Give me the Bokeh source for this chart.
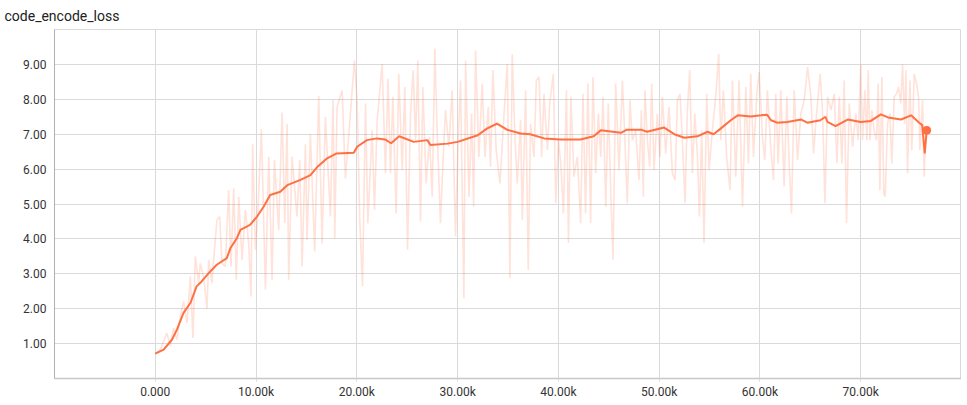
import numpy as np
from bokeh.plotting import figure
from bokeh.models import FixedTicker, Range1d
from bokeh.embed import file_html
from bokeh.resources import INLINE

title_text = "code_encode_loss"

# smoothed series (step in thousands, value)
smooth_k = [0.0, 0.83, 1.65, 2.15, 2.8, 3.5, 4.1, 4.6, 5.3, 6.1, 7.1, 7.45, 8.1, 8.45, 9.4,
            10.1, 10.75, 11.4, 12.4, 13.1, 14.4, 15.4, 16.1, 17.0, 18.0, 19.7, 20.03, 21.0,
            22.0, 22.8, 23.4, 24.2, 25.65, 27.0, 27.3, 29.0, 30.0, 32.0, 32.9, 33.9, 34.9,
            36.25, 37.2, 38.6, 40.2, 42.2, 43.5, 44.2, 46.2, 46.8, 48.2, 48.8, 50.5, 51.5,
            52.5, 53.8, 54.8, 55.4, 56.1, 57.1, 57.8, 59.1, 60.1, 60.7, 61.1, 61.7, 62.7,
            64.1, 64.7, 66.0, 66.5, 66.7, 67.5, 68.7, 70.0, 71.0, 72.0, 72.7, 74.0, 75.0,
            75.8, 76.1, 76.35, 76.55]
smooth_v = [0.71, 0.83, 1.11, 1.40, 1.88, 2.17, 2.64, 2.78, 3.02, 3.26, 3.45, 3.73, 4.02, 4.26, 4.40,
            4.64, 4.92, 5.26, 5.35, 5.54, 5.69, 5.83, 6.07, 6.30, 6.45, 6.47, 6.64, 6.83,
            6.88, 6.85, 6.74, 6.94, 6.78, 6.83, 6.69, 6.73, 6.78, 6.97, 7.16, 7.30, 7.13,
            7.02, 7.00, 6.88, 6.85, 6.85, 6.94, 7.11, 7.04, 7.13, 7.13, 7.07, 7.19, 7.00,
            6.90, 6.94, 7.07, 7.00, 7.16, 7.40, 7.54, 7.51, 7.54, 7.56, 7.40, 7.33, 7.35,
            7.42, 7.33, 7.40, 7.50, 7.35, 7.23, 7.42, 7.35, 7.38, 7.57, 7.48, 7.42, 7.54,
            7.33, 7.26, 6.45, 7.11]

# raw series (step in thousands, value)
raw_k = [0.0, 0.5, 1.16, 1.49, 1.82, 2.15, 2.48, 2.81, 3.15, 3.48, 3.74, 3.97, 4.3, 4.47, 4.8,
         5.13, 5.3, 5.63, 5.79, 6.12, 6.39, 6.62, 6.95, 7.28, 7.51, 7.78, 8.04, 8.28, 8.61,
         8.94, 9.27, 9.5, 9.66, 9.93, 10.16, 10.53, 10.93, 11.26, 11.59, 11.82, 12.25, 12.58,
         12.85, 13.08, 13.24, 13.57, 14.07, 14.33, 14.57, 14.9, 15.06, 15.39, 15.82, 16.22,
         16.55, 16.88, 17.38, 17.64, 17.81, 18.04, 18.54, 18.87, 19.36, 19.76, 20.03, 20.29,
         20.56, 20.86, 21.09, 21.52, 21.75, 22.02, 22.51, 22.84,
         23.1, 23.34, 23.57, 23.9, 24.16, 24.5, 24.76, 25.03, 25.33, 25.59, 25.83, 26.05,
         26.32, 26.55, 26.88, 27.21, 27.48, 27.74, 27.97, 28.3, 28.54, 28.8, 29.13, 29.46,
         29.79, 30.06, 30.29, 30.62, 30.79, 31.13, 31.39, 31.59, 31.78, 32.11, 32.44, 32.71,
         33.04, 33.27, 33.5, 33.83, 34.2, 34.59, 34.93, 35.19, 35.42, 35.69, 35.92, 36.25,
         36.42, 36.75, 37.01, 37.24, 37.58, 37.81, 38.08, 38.34, 38.57, 38.91, 39.14, 39.5,
         39.74, 40.0, 40.24, 40.5, 40.8, 41.0, 41.24, 41.54, 41.88, 42.21, 42.44, 42.7,
         42.93, 43.2, 43.43, 43.7, 43.97, 44.2, 44.43, 44.7, 44.95, 45.18, 45.42, 45.68,
         46.02, 46.35,
         46.51, 46.84, 47.1, 47.34, 47.67, 48.0, 48.23, 48.43, 48.59, 48.83, 49.06, 49.26,
         49.49, 49.82, 50.08, 50.32, 50.65, 50.98, 51.31, 51.58, 51.81, 52.07, 52.3, 52.57,
         52.8, 53.03, 53.29, 53.53, 53.79, 53.99, 54.22, 54.45, 54.72, 54.95, 55.28, 55.61,
         55.91, 56.11, 56.37, 56.7, 57.03, 57.27, 57.6, 57.93, 58.27, 58.6, 58.86, 59.09,
         59.36, 59.69, 59.92, 60.25, 60.48, 60.74, 61.07, 61.34, 61.57, 61.81, 62.07, 62.4,
         62.67, 62.9, 63.13, 63.4, 63.73, 64.06, 64.39, 64.73, 65.06, 65.32, 65.65, 65.98,
         66.22, 66.45, 66.71, 67.04, 67.38, 67.64, 67.87, 68.13, 68.36, 68.59, 68.86, 69.19,
         69.52, 69.75,
         70.01, 70.18, 70.41, 70.61, 70.74, 70.91, 71.1, 71.33, 71.57, 71.73, 71.9, 72.1,
         72.29, 72.43, 72.66, 72.89, 73.09, 73.32, 73.55, 73.75, 73.98, 74.15, 74.35, 74.48,
         74.65, 74.88, 75.07, 75.31, 75.54, 75.74, 75.87, 76.13, 76.3, 76.47]
raw_v = [0.71, 0.83, 1.30, 0.92, 1.45, 1.11, 1.78, 2.21, 1.59, 2.92, 1.16, 3.50, 2.73, 3.30, 2.92,
         2.00, 3.40, 2.73, 3.40, 4.54, 4.64, 3.30, 3.21, 5.40, 3.21, 5.45, 2.83, 5.21, 3.40,
         4.83, 3.88, 2.35, 6.71, 3.69, 4.64, 7.14, 2.54, 6.35, 2.83, 6.26, 4.26, 7.62,
         4.45, 7.30, 2.83, 6.35, 4.64, 6.26, 3.21, 6.71, 3.97, 7.00, 3.64, 8.10,
         3.86, 7.50, 4.64, 7.97, 4.02, 7.78, 8.25, 5.73, 7.59, 9.11, 7.97, 4.54,
         2.64, 7.88, 4.45, 7.11, 4.83, 7.40, 9.02, 5.88,
         8.59, 5.88, 8.07, 4.73, 8.73, 5.97, 8.35, 3.69, 7.59, 8.83, 6.83, 9.11,
         4.50, 8.35, 5.59, 6.92, 5.21, 9.45, 7.11, 4.45, 6.16, 7.69, 6.64, 8.26,
         4.07, 6.83, 8.54, 2.30, 9.11, 5.21, 7.59, 4.92, 9.40, 6.35, 8.45, 6.35,
         7.78, 6.07, 8.83, 6.54, 5.59, 7.50, 9.02, 2.88, 9.30, 6.92, 5.59, 7.40,
         4.54, 8.26, 3.11, 7.30, 6.35, 8.54, 8.64, 6.35, 8.16, 6.54, 7.88, 8.73,
         5.02, 6.83, 6.16, 4.73, 8.26, 3.88, 8.07, 5.78, 6.35, 4.45, 8.16, 4.73,
         8.45, 4.45, 8.64, 5.88, 7.59, 6.35, 8.07, 4.92, 7.88, 5.50, 3.40, 8.45,
         5.97, 8.54,
         7.50, 5.02, 7.97, 6.83, 7.11, 5.69, 7.69, 5.21, 8.26, 6.83, 6.07, 8.45,
         5.97, 7.59, 6.35, 8.07, 6.45, 7.78, 5.88, 5.69, 7.97, 8.16, 6.83, 5.02,
         7.69, 8.83, 5.88, 7.59, 6.45, 4.64, 7.11, 3.88, 8.16, 5.97, 7.11, 8.07,
         9.30, 6.83, 8.26, 6.35, 5.40, 8.54, 5.78, 8.54, 4.92, 8.35, 6.16, 8.73,
         6.35, 8.16, 8.78, 6.92, 6.26, 8.26, 6.64, 5.69, 8.16, 6.16, 8.26, 5.50,
         8.07, 6.16, 4.73, 8.26, 6.26, 7.59, 7.97, 8.92, 8.07, 6.45, 7.69, 8.73,
         7.59, 5.02, 8.07, 7.69, 8.16, 6.16, 8.07, 6.16, 8.54, 4.45, 7.88, 6.64,
         7.59, 6.83,
         9.02, 6.83, 8.26, 6.83, 8.83, 6.83, 7.69, 7.11, 6.83, 8.45, 5.40, 8.64,
         5.30, 5.21, 7.30, 7.59, 6.16, 8.07, 8.16, 8.35, 7.88, 9.02, 7.30, 8.83,
         5.88, 8.54, 6.54, 8.73, 8.45, 8.07, 6.54, 7.97, 5.78, 7.11]

x_ticks = [0, 10000, 20000, 30000, 40000, 50000, 60000, 70000]
x_tick_labels = ["0.000", "10.00k", "20.00k", "30.00k", "40.00k", "50.00k", "60.00k", "70.00k"]
y_ticks = [1, 2, 3, 4, 5, 6, 7, 8, 9]

LINE = "#ff7043"
GRID = "#dadada"

smooth_x = np.array(smooth_k) * 1000
raw_x = np.array(raw_k) * 1000

p = figure(width=961, height=401, output_backend="svg", toolbar_location=None,
           x_range=Range1d(-10000, 80000), y_range=Range1d(0, 10),
           min_border_left=54, min_border_right=0, min_border_top=28, min_border_bottom=22)

p.title.text = title_text
p.title.text_font = "Roboto"
p.title.text_font_size = "14px"
p.title.text_font_style = "normal"
p.title.text_color = "#212121"
p.title.align = "left"
p.title.offset = -50
p.title.standoff = 11

p.outline_line_color = GRID

p.line(raw_x, raw_v, line_color=LINE, line_alpha=0.2, line_width=1.6)
p.line(smooth_x, smooth_v, line_color=LINE, line_width=2)
p.scatter([smooth_x[-1]], [smooth_v[-1]], size=8, color=LINE)

p.xaxis.ticker = FixedTicker(ticks=x_ticks)
p.xaxis.major_label_overrides = {t: l for t, l in zip(x_ticks, x_tick_labels)}
p.yaxis.ticker = FixedTicker(ticks=y_ticks)
p.yaxis.major_label_overrides = {t: f"{t:.2f}" for t in y_ticks}

for ax in (p.xaxis[0], p.yaxis[0]):
    ax.major_label_text_font = "Roboto"
    ax.major_label_text_font_size = "12px"
    ax.major_label_text_color = "#333333"
    ax.minor_tick_line_color = None
    ax.major_tick_in = 0

p.xaxis.axis_line_color = "#c8c8c8"
p.xaxis.axis_line_width = 1.5
p.xaxis.major_tick_out = 3
p.xaxis.major_tick_line_color = GRID
p.xaxis.major_label_standoff = 3
p.yaxis.axis_line_color = "#b0b0b0"
p.yaxis.major_tick_out = 0
p.yaxis.major_tick_line_color = None
p.yaxis.major_label_standoff = 8

p.xgrid.grid_line_color = GRID
p.ygrid.grid_line_color = GRID

open("out.html", "w").write(file_html(p, INLINE))
